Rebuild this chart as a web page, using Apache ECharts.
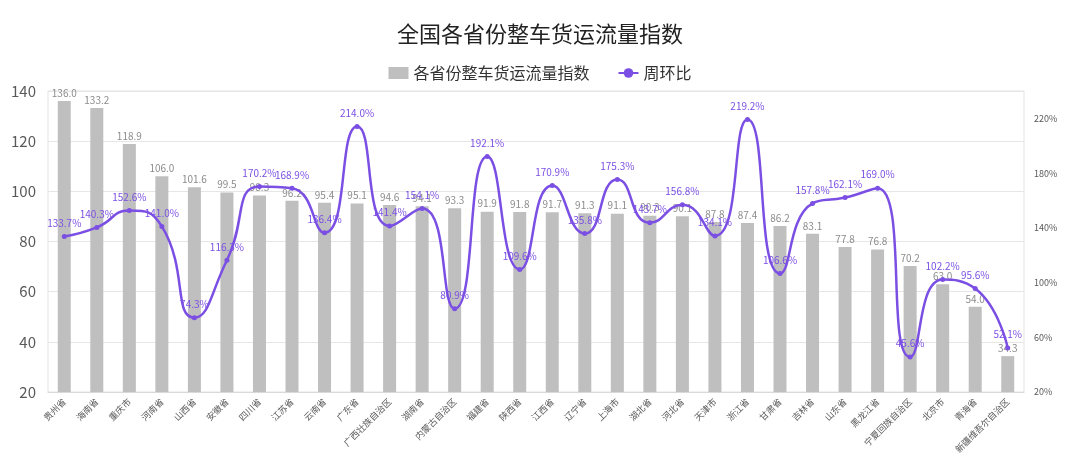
<!DOCTYPE html>
<html><head><meta charset="utf-8">
<script src="https://cdn.jsdelivr.net/npm/echarts@6/dist/echarts.min.js"></script>
<style>html,body{margin:0;padding:0;background:#fff}#c{width:1080px;height:475px}</style>
</head><body><div id="c"></div>
<script>
const categories = ['贵州省','海南省','重庆市','河南省','山西省','安徽省','四川省','江苏省','云南省','广东省','广西壮族自治区','湖南省','内蒙古自治区','福建省','陕西省','江西省','辽宁省','上海市','湖北省','河北省','天津市','浙江省','甘肃省','吉林省','山东省','黑龙江省','宁夏回族自治区','北京市','青海省','新疆维吾尔自治区'];
const indexValues = [136.0,133.2,118.9,106.0,101.6,99.5,98.3,96.2,95.4,95.1,94.6,94.1,93.3,91.9,91.8,91.7,91.3,91.1,90.3,90.1,87.8,87.4,86.2,83.1,77.8,76.8,70.2,63.0,54.0,34.3];
const wowValues = [133.7,140.3,152.6,141.0,74.3,116.3,170.2,168.9,136.4,214.0,141.4,154.1,80.9,192.1,109.6,170.9,135.8,175.3,143.7,156.8,134.1,219.2,106.6,157.8,162.1,169.0,45.6,102.2,95.6,52.1];
const seriesNames = ['各省份整车货运流量指数','周环比'];
const FONT = '"Noto Sans CJK SC","Noto Sans",sans-serif';
const chart = echarts.init(document.getElementById('c'));
chart.setOption({
  animation:false,
  textStyle:{fontFamily:FONT},
  title:{text:'全国各省份整车货运流量指数',left:'center',top:18,textStyle:{fontFamily:FONT,fontSize:22,fontWeight:'normal',color:'#222'}},
  legend:{top:60,left:'center',itemGap:28,itemWidth:20,itemHeight:12,textStyle:{fontFamily:FONT,fontSize:16,color:'#333'},
    data:[{name:seriesNames[0],icon:'rect'},{name:seriesNames[1]}]},
  grid:{left:48,right:56,top:91,bottom:83,show:true,borderColor:'#e3e3e3',borderWidth:1},
  xAxis:{type:'category',data:categories,axisTick:{show:false},axisLine:{lineStyle:{color:'#d9d9d9'}},
    axisLabel:{rotate:45,fontSize:9,color:'#595959',interval:0,margin:8,fontFamily:FONT}},
  yAxis:[
    {type:'value',min:20,max:140,interval:20,axisLine:{show:false},axisTick:{show:false},
     axisLabel:{fontSize:15,color:'#595959',margin:12,fontFamily:FONT},splitLine:{lineStyle:{color:'#e6e6e6'}}},
    {type:'value',min:20,max:240,interval:40,axisLine:{show:false},axisTick:{show:false},
     axisLabel:{fontSize:9,color:'#595959',formatter:'{value}%',showMaxLabel:false,margin:10},splitLine:{show:false}}
  ],
  series:[
    {name:seriesNames[0],type:'bar',data:indexValues,barWidth:13,itemStyle:{color:'#bfbfbf'},
     label:{show:true,position:'top',fontSize:10,color:'#8c8c8c',formatter:p=>p.value.toFixed(1),distance:3}},
    {name:seriesNames[1],type:'line',yAxisIndex:1,data:wowValues,smooth:0.55,symbol:'circle',symbolSize:5,
     lineStyle:{color:'#7b4fe3',width:2.5},itemStyle:{color:'#7b4fe3'},
     label:{show:true,position:'top',fontSize:10,color:'#7b4fe3',formatter:p=>p.value.toFixed(1)+'%',distance:6}}
  ]
});
</script></body></html>
